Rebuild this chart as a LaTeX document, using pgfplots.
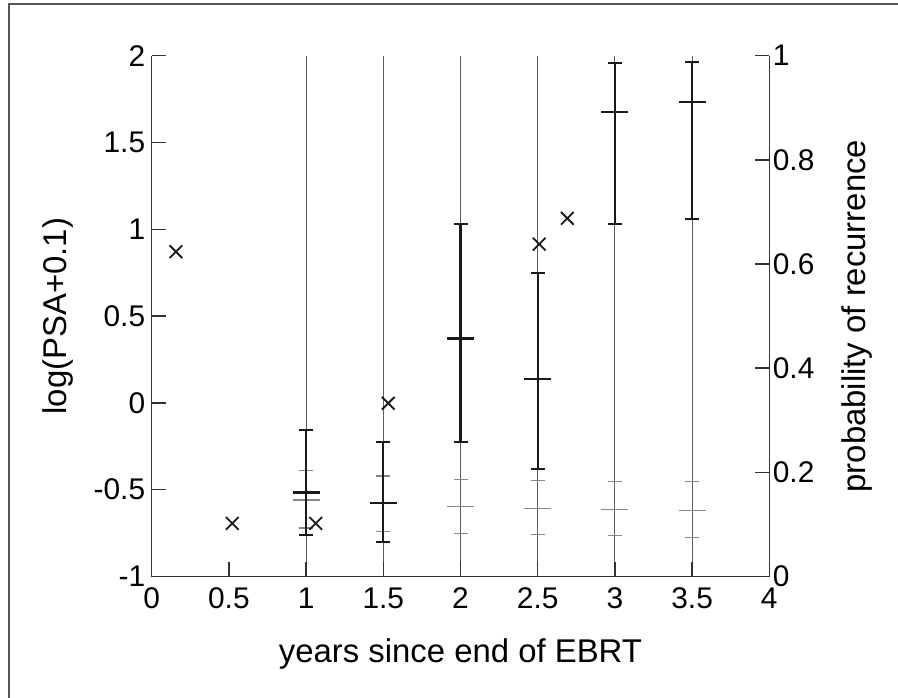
\documentclass[border=0pt]{standalone}
\usepackage{fontspec}
\setmainfont{Liberation Sans}
\usepackage{pgfplots}
\pgfplotsset{compat=1.18}
\definecolor{axisgray}{HTML}{333333}
\definecolor{linegray}{HTML}{5E5E5E}
\definecolor{tickgray}{HTML}{878787}
\definecolor{barblack}{HTML}{1A1A1A}
\definecolor{framegray}{HTML}{555555}

\pgfplotsset{
  psabase/.style={
    scale only axis, width=617.6bp, height=520.8bp,
    at={(151.7bp,121.5bp)}, anchor=south west,
    xmin=0, xmax=4,
    tick align=inside, major tick length=14bp,
    every tick/.append style={axisgray, line width=1.5bp},
    axis line style={-, axisgray, line width=1.5bp},
    /pgf/number format/assume math mode=true,
    tick label style={font=\fontsize{30}{36}\selectfont, black},
    label style={font=\fontsize{33}{40}\selectfont, black},
    unbounded coords=jump,
  },
}

\begin{document}
\begin{tikzpicture}
\useasboundingbox (0,0) rectangle (898bp,698bp);
\draw[framegray, line width=2bp] (9bp,0) -- (9bp,694bp) -- (898bp,694bp);

% right axis: probability of recurrence (gray ticks) and full-range lines
\begin{axis}[psabase,
    ymin=0, ymax=1,
    axis x line=none, axis y line*=right,
    ytick={0,0.2,0.4,0.6,0.8,1},
    ylabel={probability of recurrence},
    ylabel style={at={(axis description cs:1.142,0.5)}, anchor=center},
]
\addplot[linegray, line width=1bp] coordinates {
  (1,0) (1,1) (1,nan)
  (1.5,0) (1.5,1) (1.5,nan)
  (2,0) (2,1) (2,nan)
  (2.5,0) (2.5,1) (2.5,nan)
  (3,0) (3,1) (3,nan)
  (3.5,0) (3.5,1)
};
% lower / upper
\addplot[only marks, mark=-, mark size=7bp, color=tickgray, mark options={line width=1.2bp}] coordinates {
  (1,0.093) (1,0.203)
  (1.5,0.087) (1.5,0.193)
  (2,0.083) (2,0.187)
  (2.5,0.080) (2.5,0.185)
  (3,0.078) (3,0.182)
  (3.5,0.075) (3.5,0.182)
};
% median
\addplot[only marks, mark=-, mark size=13.5bp, color=tickgray, mark options={line width=1.2bp}] coordinates {
  (1,0.147) (1.5,0.142) (2,0.134) (2.5,0.131) (3,0.128) (3.5,0.126)
};
\end{axis}

% left axis: log(PSA+0.1)
\begin{axis}[psabase,
    ymin=-1, ymax=2,
    axis x line*=bottom, axis y line*=left,
    xtick={0,0.5,1,1.5,2,2.5,3,3.5,4},
    ytick={-1,-0.5,0,0.5,1,1.5,2},
    xticklabel style={yshift=-8bp},
    yticklabel style={xshift=-3bp},
    xlabel={years since end of EBRT},
    ylabel={log(PSA+0.1)},
    xlabel style={at={(axis description cs:0.5,-0.148)}, anchor=center},
    ylabel style={at={(axis description cs:-0.151,0.5)}, anchor=center},
]
\addplot[barblack, line width=2.2bp] coordinates {
  (1,-0.761) (1,-0.156) (1,nan)
  (1.5,-0.800) (1.5,-0.227) (1.5,nan)
  (2,-0.225) (2,1.029) (2,nan)
  (2.5,-0.383) (2.5,0.747) (2.5,nan)
  (3,1.029) (3,1.956) (3,nan)
  (3.5,1.059) (3.5,1.964)
};
\addplot[only marks, mark=-, mark size=7bp, color=barblack, mark options={line width=2bp}] coordinates {
  (1,-0.761) (1,-0.156)
  (1.5,-0.800) (1.5,-0.227)
  (2,-0.225) (2,1.029)
  (2.5,-0.383) (2.5,0.747)
  (3,1.029) (3,1.956)
  (3.5,1.059) (3.5,1.964)
};
\addplot[only marks, mark=-, mark size=13.5bp, color=barblack, mark options={line width=2.4bp}] coordinates {
  (1,-0.517) (1.5,-0.575) (2,0.372) (2.5,0.138) (3,1.674) (3.5,1.732)
};
% observed values
\addplot[only marks, mark=x, mark size=9bp, color=barblack, mark options={line width=1.8bp}] coordinates {
  (0.157,0.871) (0.522,-0.694) (1.062,-0.694) (1.532,-0.002) (2.510,0.915) (2.692,1.063)
};
\end{axis}
\end{tikzpicture}
\end{document}
